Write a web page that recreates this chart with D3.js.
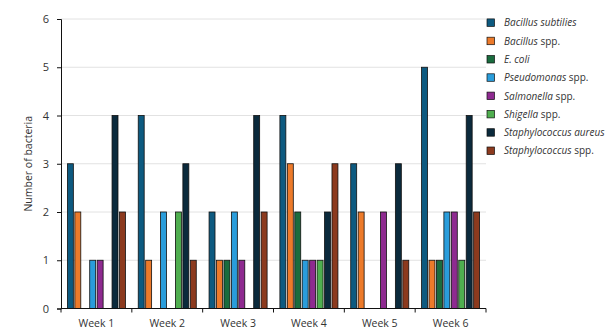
<!DOCTYPE html>
<html>
<head>
<meta charset="utf-8">
<script src="https://cdn.jsdelivr.net/npm/d3@7"></script>
<style>
  body { margin: 0; background: #fff; }
  text { font-family: "Open Sans", "Noto Sans", sans-serif; fill: #333; }
</style>
</head>
<body>
<div id="chart"></div>
<script>
// weeks on the x axis
const weeks = ["Week 1", "Week 2", "Week 3", "Week 4", "Week 5", "Week 6"];

// species: italic genus part + plain suffix
const species = [
  { key: "bs", italic: "Bacillus subtilies", plain: "" },
  { key: "bspp", italic: "Bacillus", plain: " spp." },
  { key: "ecoli", italic: "E. coli", plain: "" },
  { key: "pseud", italic: "Pseudomonas", plain: " spp." },
  { key: "salm", italic: "Salmonella", plain: " spp." },
  { key: "shig", italic: "Shigella", plain: " spp." },
  { key: "sa", italic: "Staphylococcus aureus", plain: "" },
  { key: "sspp", italic: "Staphylococcus", plain: " spp." }
];

const colors = ["#0d5a80", "#ec7a2a", "#1a6c3e", "#2a9ddb", "#8e2a90", "#4fae4f", "#0b2a3c", "#8c3a1e"];

// counts per species, one value per week
const bacillusSubtilies = [3, 4, 2, 4, 3, 5];
const bacillusSpp = [2, 1, 1, 3, 2, 1];
const eColi = [0, 0, 1, 2, 0, 1];
const pseudomonasSpp = [1, 2, 2, 1, 0, 2];
const salmonellaSpp = [1, 0, 1, 1, 2, 2];
const shigellaSpp = [0, 2, 0, 1, 0, 1];
const staphAureus = [4, 3, 4, 2, 3, 4];
const staphSpp = [2, 1, 2, 3, 1, 2];

const series = [bacillusSubtilies, bacillusSpp, eColi, pseudomonasSpp,
  salmonellaSpp, shigellaSpp, staphAureus, staphSpp];

const yTicks = [0, 1, 2, 3, 4, 5, 6];

const width = 614, height = 333;
const margin = { left: 61, right: 128, top: 19, bottom: 24.5 };

const svg = d3.select("#chart")
  .append("svg")
  .attr("width", width)
  .attr("height", height);

const x0 = d3.scaleBand()
  .domain(weeks)
  .range([margin.left, width - margin.right])
  .paddingInner(0)
  .paddingOuter(0);

const x1 = d3.scaleBand()
  .domain(species.map((s) => s.key))
  .range([0, x0.bandwidth()])
  .paddingInner(0.2)
  .paddingOuter(0.86);

const y = d3.scaleLinear()
  .domain([0, 6])
  .range([height - margin.bottom, margin.top]);

// horizontal gridlines
svg.append("g")
  .selectAll("line")
  .data(yTicks.filter((d) => d > 0))
  .enter()
  .append("line")
  .attr("x1", margin.left)
  .attr("x2", width - margin.right)
  .attr("y1", (d) => y(d))
  .attr("y2", (d) => y(d))
  .attr("stroke", "#e2e2e2")
  .attr("stroke-width", 1);

// bars
const groups = svg.append("g")
  .selectAll("g")
  .data(weeks)
  .enter()
  .append("g")
  .attr("transform", (d) => `translate(${x0(d)},0)`);

groups.selectAll("rect")
  .data((w, wi) => species.map((s, si) => ({ key: s.key, value: series[si][wi], color: colors[si] })))
  .enter()
  .filter((d) => d.value > 0)
  .append("rect")
  .attr("x", (d) => x1(d.key))
  .attr("width", x1.bandwidth())
  .attr("y", (d) => y(d.value))
  .attr("height", (d) => y(0) - y(d.value))
  .attr("fill", (d) => d.color)
  .attr("stroke", "#111")
  .attr("stroke-width", 0.8);

// y axis
const yAxis = svg.append("g")
  .attr("transform", `translate(${margin.left},0)`)
  .call(d3.axisLeft(y).tickValues(yTicks).tickSize(4).tickPadding(8).tickFormat(d3.format("d")));
yAxis.select(".domain").attr("stroke", "#111");
yAxis.selectAll(".tick line").attr("stroke", "#111");
yAxis.selectAll("text").style("font-size", "11px").attr("fill", "#333");

// x axis with ticks on the group boundaries
const xAxis = svg.append("g")
  .attr("transform", `translate(0,${y(0)})`);
xAxis.append("line")
  .attr("x1", margin.left)
  .attr("x2", width - margin.right)
  .attr("stroke", "#111");
xAxis.selectAll(".bound")
  .data(weeks.concat(["end"]))
  .enter()
  .append("line")
  .attr("class", "bound")
  .attr("x1", (d, i) => (i < weeks.length ? x0(d) : x0(weeks[weeks.length - 1]) + x0.bandwidth()))
  .attr("x2", (d, i) => (i < weeks.length ? x0(d) : x0(weeks[weeks.length - 1]) + x0.bandwidth()))
  .attr("y1", 0)
  .attr("y2", 4)
  .attr("stroke", "#111");
xAxis.selectAll(".label")
  .data(weeks)
  .enter()
  .append("text")
  .attr("class", "label")
  .attr("x", (d) => x0(d) + x0.bandwidth() / 2)
  .attr("y", 18)
  .attr("text-anchor", "middle")
  .style("font-size", "10.5px")
  .text((d) => d);

// y axis title
svg.append("text")
  .attr("transform", `translate(32,${(y(0) + y(6)) / 2}) rotate(-90)`)
  .attr("text-anchor", "middle")
  .style("font-size", "10.5px")
  .text("Number of bacteria");

// legend
const legend = svg.append("g")
  .attr("transform", "translate(487,22.7)");

const items = legend.selectAll("g")
  .data(species)
  .enter()
  .append("g")
  .attr("transform", (d, i) => `translate(0,${i * 18.3})`);

items.append("rect")
  .attr("x", 0)
  .attr("y", -3.8)
  .attr("width", 7.5)
  .attr("height", 7.5)
  .attr("fill", (d, i) => colors[i])
  .attr("stroke", "#111")
  .attr("stroke-width", 0.7);

const labels = items.append("text")
  .attr("x", 17)
  .attr("y", 3.6)
  .style("font-size", "10px");
labels.append("tspan")
  .style("font-style", "italic")
  .text((d) => d.italic);
labels.append("tspan")
  .text((d) => d.plain);
</script>
</body>
</html>
